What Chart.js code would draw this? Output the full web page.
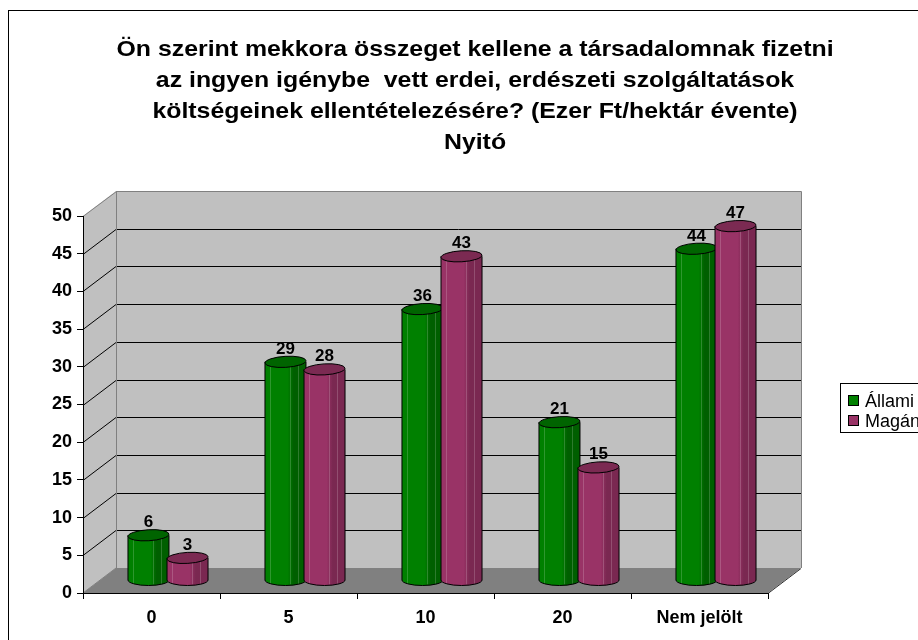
<!DOCTYPE html>
<html>
<head>
<meta charset="utf-8">
<script src="https://cdn.jsdelivr.net/npm/chart.js@4.4.0/dist/chart.umd.min.js"></script>
<style>
    html, body { margin: 0; padding: 0; background: #fff; }
    canvas { display: block; }
</style>
</head>
<body>
<canvas id="chart" width="918" height="640"></canvas>
<script>
// adatok
const categories = ['0', '5', '10', '20', 'Nem jelölt'];
const seriesNames = ['Állami', 'Magán'];
const allamiValues = [6, 29, 36, 21, 44];
const maganValues = [3, 28, 43, 15, 47];
const yMin = 0;
const yMax = 50;
const yStep = 5;
const titleLines = [
    'Ön szerint mekkora összeget kellene a társadalomnak fizetni',
    'az ingyen igénybe  vett erdei, erdészeti szolgáltatások',
    'költségeinek ellentételezésére? (Ezer Ft/hektár évente)',
    'Nyitó'
];

const FONT = 'Arial, "Liberation Sans", sans-serif';
const DEPTH_X = 33;
const DEPTH_Y = -25;

// szinek: [test, sotet oldal, teteje]
const colors = [
    { body: '#008000', dark: '#005f00', top: '#006400' },
    { body: '#993366', dark: '#7a2851', top: '#7b2a52' }
];

// 3D doboz (hatfal, oldalfal, padlo) + racsvonalak
const wallsPlugin = {
    id: 'walls',
    beforeDraw(chart) {
        const ctx = chart.ctx;
        const a = chart.chartArea;
        const ys = chart.scales.y;
        ctx.save();

        // hatfal
        ctx.fillStyle = '#c0c0c0';
        ctx.fillRect(a.left + DEPTH_X, a.top + DEPTH_Y, a.right - a.left, a.bottom - a.top);

        // oldalfal
        ctx.beginPath();
        ctx.moveTo(a.left, a.bottom);
        ctx.lineTo(a.left, a.top);
        ctx.lineTo(a.left + DEPTH_X, a.top + DEPTH_Y);
        ctx.lineTo(a.left + DEPTH_X, a.bottom + DEPTH_Y);
        ctx.closePath();
        ctx.fill();

        // padlo
        ctx.fillStyle = '#808080';
        ctx.beginPath();
        ctx.moveTo(a.left, a.bottom);
        ctx.lineTo(a.right, a.bottom);
        ctx.lineTo(a.right + DEPTH_X, a.bottom + DEPTH_Y);
        ctx.lineTo(a.left + DEPTH_X, a.bottom + DEPTH_Y);
        ctx.closePath();
        ctx.fill();
        ctx.strokeStyle = '#303030';
        ctx.lineWidth = 1;
        ctx.beginPath();
        ctx.moveTo(a.right, a.bottom + 0.5);
        ctx.lineTo(a.right + DEPTH_X, a.bottom + DEPTH_Y + 0.5);
        ctx.stroke();

        // racsvonalak
        for (let v = yMin + yStep; v < yMax; v += yStep) {
            const py = Math.round(ys.getPixelForValue(v)) + 0.5;
            ctx.strokeStyle = '#000';
            ctx.beginPath();
            ctx.moveTo(a.left, py);
            ctx.lineTo(a.left + DEPTH_X, py + DEPTH_Y);
            ctx.lineTo(a.right + DEPTH_X, py + DEPTH_Y);
            ctx.stroke();
        }

        // falak szelei
        ctx.strokeStyle = '#808080';
        ctx.beginPath();
        ctx.moveTo(a.left, a.top + 0.5);
        ctx.lineTo(a.left + DEPTH_X + 0.5, a.top + DEPTH_Y + 0.5);
        ctx.lineTo(a.right + DEPTH_X + 0.5, a.top + DEPTH_Y + 0.5);
        ctx.lineTo(a.right + DEPTH_X + 0.5, a.bottom + DEPTH_Y);
        ctx.moveTo(a.left + DEPTH_X + 0.5, a.top + DEPTH_Y);
        ctx.lineTo(a.left + DEPTH_X + 0.5, a.bottom + DEPTH_Y + 0.5);
        ctx.lineTo(a.right + DEPTH_X, a.bottom + DEPTH_Y + 0.5);
        ctx.moveTo(a.left, a.bottom);
        ctx.lineTo(a.left + DEPTH_X, a.bottom + DEPTH_Y);
        ctx.stroke();

        ctx.restore();
    }
};

function drawCylinder(ctx, cx, topY, botY, r, c) {
    const ry = 5.5;
    const grad = ctx.createLinearGradient(cx - r, 0, cx + r, 0);
    grad.addColorStop(0, c.body);
    grad.addColorStop(0.55, c.body);
    grad.addColorStop(0.7, c.dark);
    grad.addColorStop(1, c.dark);

    ctx.beginPath();
    ctx.moveTo(cx - r, topY);
    ctx.lineTo(cx - r, botY);
    ctx.ellipse(cx, botY, r, ry, 0, Math.PI, 0, true);
    ctx.lineTo(cx + r, topY);
    ctx.closePath();
    ctx.fillStyle = grad;
    ctx.fill();

    // halvany csikok
    ctx.strokeStyle = 'rgba(255,255,255,0.18)';
    ctx.lineWidth = 1;
    [0.12, 0.62, 0.8].forEach(f => {
        const lx = Math.round(cx - r + 2 * r * f) + 0.5;
        ctx.beginPath();
        ctx.moveTo(lx, topY);
        ctx.lineTo(lx, botY + ry * 0.8);
        ctx.stroke();
    });

    ctx.strokeStyle = '#000';
    ctx.beginPath();
    ctx.moveTo(cx - r, topY);
    ctx.lineTo(cx - r, botY);
    ctx.ellipse(cx, botY, r, ry, 0, Math.PI, 0, true);
    ctx.lineTo(cx + r, topY);
    ctx.stroke();

    ctx.beginPath();
    ctx.ellipse(cx, topY, r, ry, -0.06, 0, Math.PI * 2);
    ctx.fillStyle = c.top;
    ctx.fill();
    ctx.stroke();
}

// hengerek a Chart.js oszlop elemeibol
const cylinderPlugin = {
    id: 'cylinders',
    beforeDatasetsDraw(chart) {
        const ctx = chart.ctx;
        const sx = DEPTH_X / 2;
        const sy = DEPTH_Y / 2;
        ctx.save();
        chart.data.datasets.forEach((ds, di) => {
            const meta = chart.getDatasetMeta(di);
            meta.data.forEach((el, i) => {
                const p = el.getProps(['x', 'y', 'base', 'width'], true);
                const cx = p.x + sx;
                const topY = p.y + sy;
                const botY = p.base + sy;
                drawCylinder(ctx, cx, topY, botY, p.width / 2, colors[di]);
            });
        });
        // ertekek
        ctx.fillStyle = '#000';
        ctx.font = 'bold 17px ' + FONT;
        ctx.textAlign = 'center';
        ctx.textBaseline = 'alphabetic';
        chart.data.datasets.forEach((ds, di) => {
            const meta = chart.getDatasetMeta(di);
            meta.data.forEach((el, i) => {
                const p = el.getProps(['x', 'y'], true);
                ctx.fillText(String(ds.data[i]), p.x + sx, p.y + sy - 8);
            });
        });
        ctx.restore();
        return false;
    }
};

// cim, jelmagyarazat, keret
const decorPlugin = {
    id: 'decor',
    afterDraw(chart) {
        const ctx = chart.ctx;
        ctx.save();

        ctx.strokeStyle = '#000';
        ctx.lineWidth = 1;
        ctx.strokeRect(8.5, 10.5, 1000, 1000);

        ctx.fillStyle = '#000';
        ctx.font = 'bold 22px ' + FONT;
        ctx.textAlign = 'center';
        ctx.textBaseline = 'alphabetic';
        titleLines.forEach((line, i) => {
            ctx.save();
            ctx.translate(475, 56 + i * 31);
            ctx.scale(1.13, 1);
            ctx.fillText(line, 0, 0);
            ctx.restore();
        });

        // jelmagyarazat
        ctx.strokeRect(840.5, 383.5, 200, 49);
        ctx.font = '18px ' + FONT;
        ctx.textAlign = 'left';
        ctx.textBaseline = 'middle';
        seriesNames.forEach((name, i) => {
            const y = 401 + i * 20;
            ctx.fillStyle = colors[i].body;
            ctx.fillRect(848, y - 6, 11, 11);
            ctx.strokeRect(848.5, y - 5.5, 10, 10);
            ctx.fillStyle = '#000';
            ctx.fillText(name, 865, y + 1);
        });

        ctx.restore();
    }
};

const tickFont = { family: FONT, size: 18, weight: 'bold' };

new Chart(document.getElementById('chart'), {
    type: 'bar',
    data: {
        labels: categories,
        datasets: [
            { label: seriesNames[0], data: allamiValues, backgroundColor: colors[0].body },
            { label: seriesNames[1], data: maganValues, backgroundColor: colors[1].body }
        ]
    },
    options: {
        responsive: false,
        animation: false,
        categoryPercentage: 0.57,
        barPercentage: 1.05,
        layout: { padding: { top: 216, left: 0, right: 150, bottom: 0 } },
        plugins: {
            legend: { display: false },
            title: { display: false },
            tooltip: { enabled: false }
        },
        scales: {
            x: {
                grid: { display: true, drawOnChartArea: false, tickLength: 6, color: '#000', offset: true },
                border: { display: true, color: '#000' },
                ticks: { color: '#000', font: tickFont, padding: 8 },
                afterFit: s => { s.height = 47; }
            },
            y: {
                min: yMin,
                max: yMax,
                grid: { display: true, drawOnChartArea: false, tickLength: 6, color: '#000' },
                border: { display: true, color: '#000' },
                ticks: { stepSize: yStep, color: '#000', font: tickFont, padding: 5 },
                afterFit: s => { s.width = 83; }
            }
        }
    },
    plugins: [wallsPlugin, cylinderPlugin, decorPlugin]
});
</script>
</body>
</html>
